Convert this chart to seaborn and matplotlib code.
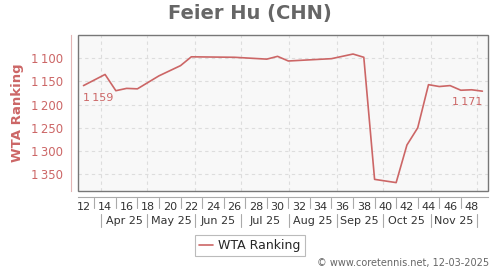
import matplotlib
matplotlib.use("Agg")
import matplotlib.pyplot as plt
import matplotlib.transforms as mtransforms
from matplotlib.patches import Rectangle
import seaborn as sns
import pandas as pd

# ---------------- data ----------------
title = "Feier Hu (CHN)"
series_name = "WTA Ranking"
weeks = [12, 14, 15, 16, 17, 19, 21, 22, 26, 29, 30, 31, 35, 37, 38,
         39, 41, 42, 43, 44, 45, 46, 47, 48, 49]
ranks = [1159, 1135, 1170, 1165, 1166, 1138, 1116, 1097, 1098, 1102, 1096,
         1106, 1101, 1091, 1098, 1361, 1368, 1287, 1250, 1157, 1161, 1159,
         1169, 1168, 1171]
week_ticks = list(range(12, 49, 2))
y_ticks = [1100, 1150, 1200, 1250, 1300, 1350]
month_labels = ["Apr 25", "May 25", "Jun 25", "Jul 25", "Aug 25",
                "Sep 25", "Oct 25", "Nov 25"]
month_starts = ["2025-04-01", "2025-05-01", "2025-06-01", "2025-07-01",
                "2025-08-01", "2025-09-01", "2025-10-01", "2025-11-01",
                "2025-12-01"]
copyright_text = "\u00a9 www.coretennis.net, 12-03-2025"

df = pd.DataFrame({"week": weeks, "rank": ranks})

# month boundaries expressed on the week axis
anchor = pd.Timestamp("2025-04-01")
anchor_week = 13.62
bounds = [anchor_week + (pd.Timestamp(d) - anchor).days / 7 for d in month_starts]


def fmt(v):
    return f"{v // 1000}\u2009{v % 1000:03d}"


# ---------------- style ----------------
sns.set_style("white")
plt.rcParams["font.family"] = ["DejaVu Sans"]

RED = "#cc6666"
W, H = 500, 270
fig = plt.figure(figsize=(5, 2.7), dpi=100)
L, R, T, B = 78, 488, 35, 190.5
ax = fig.add_axes([L / W, 1 - B / H, (R - L) / W, (B - T) / H])
ax.set_facecolor("#f8f8f8")

sns.lineplot(data=df, x="week", y="rank", ax=ax, color=RED, lw=1.2,
             label=series_name, legend=False)

ax.set_xlim(11.49, 49.52)
ax.set_ylim(1385, 1050)

# grid
ax.set_yticks(y_ticks)
ax.set_yticklabels([fmt(v) for v in y_ticks])
ax.yaxis.grid(True, color="#dddddd", ls=(0, (3, 3)), lw=0.8)
for b in bounds:
    ax.axvline(b, color="#dddddd", ls=(0, (3, 3)), lw=0.8, zorder=0)

# spines / frame
for s in ["top", "right"]:
    ax.spines[s].set_visible(False)
ax.spines["left"].set_position(("outward", 5))
ax.spines["left"].set_color("#e2b5b5")
ax.spines["bottom"].set_position(("outward", 5))
ax.spines["bottom"].set_color("#aaaaaa")
ax.add_patch(Rectangle((0, 0), 1, 1, transform=ax.transAxes, fill=False,
                       edgecolor="#777777", lw=1.0, clip_on=False, zorder=5))

ax.tick_params(axis="y", colors="#e2b5b5", labelcolor=RED, length=3.5,
               width=0.8, labelsize=8.5, pad=2)
ax.set_xticks(week_ticks)
ax.set_xticklabels([str(w) for w in week_ticks])
ax.tick_params(axis="x", length=0, labelsize=8, labelcolor="#333333", pad=3)
ax.set_xlabel("")
ax.set_ylabel(series_name, color=RED, fontsize=9.5, fontweight="bold",
              labelpad=5)

# separators and month row
tr = mtransforms.blended_transform_factory(ax.transData, fig.transFigure)
for w in range(13, 48, 2):
    ax.plot([w, w], [1 - 198 / H, 1 - 208 / H], transform=tr, color="#aaaaaa",
            lw=0.8, clip_on=False)
for b in bounds:
    ax.plot([b, b], [1 - 214 / H, 1 - 227 / H], transform=tr, color="#aaaaaa",
            lw=0.8, clip_on=False)
for lab, a, b in zip(month_labels, bounds[:-1], bounds[1:]):
    ax.text((a + b) / 2, 1 - 220.5 / H, lab, transform=tr, ha="center",
            va="center", fontsize=8, color="#333333")

# point labels
ax.annotate(fmt(ranks[0]), (weeks[0], ranks[0]), xytext=(0, -5),
            textcoords="offset points", ha="left", va="top", fontsize=8,
            color=RED)
ax.annotate(fmt(ranks[-1]), (weeks[-1], ranks[-1]), xytext=(0, -4),
            textcoords="offset points", ha="right", va="top", fontsize=8,
            color=RED)

# title, legend, copyright
fig.text(0.5, 1 - 13 / H, title, ha="center", va="center", fontsize=14,
         fontweight="bold", color="#666666")
leg = fig.legend(handles=ax.get_lines()[:1], labels=[series_name],
                 loc="center", bbox_to_anchor=(0.5, 1 - 245.5 / H),
                 fontsize=9, frameon=True, fancybox=False, handlelength=1.1,
                 borderpad=0.35, handletextpad=0.4, borderaxespad=0)
leg.get_frame().set_edgecolor("#aaaaaa")
leg.get_frame().set_linewidth(0.8)
fig.text(489 / W, 1 - 263 / H, copyright_text, ha="right", va="center",
         fontsize=7, color="#666666")

fig.savefig("out.png", dpi=100)
